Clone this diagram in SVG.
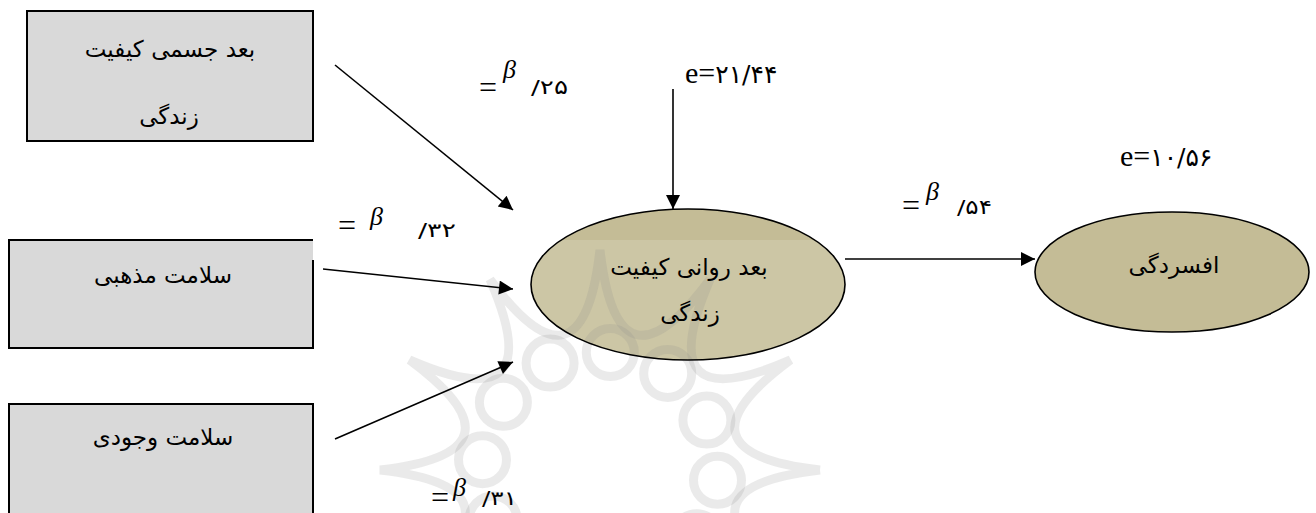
<svg xmlns="http://www.w3.org/2000/svg" width="1316" height="513" viewBox="0 0 1316 513">
<style>
.box{fill:#D9D9D9;stroke:#000;stroke-width:2}
.ell{fill:#C4BC96}
.ellb{fill:none;stroke:#000;stroke-width:1.6}
.fa{font-family:"DejaVu Sans",sans-serif;font-size:23px;fill:#000;text-anchor:middle}
.eq{font-family:"Liberation Serif",serif;font-size:32px;fill:#000}
.lat{font-family:"Liberation Serif",serif;font-size:30px;fill:#000}
.dig{font-family:"DejaVu Sans",sans-serif;font-size:20px;fill:#000}
.edig{font-family:"DejaVu Sans",sans-serif;font-size:25px}
.beta{font-family:"Liberation Serif",serif;font-style:italic;font-size:26px;fill:#000}
.wm{fill:none;stroke:#8a8a8a;stroke-width:9;opacity:0.18}
</style>
<defs>
<marker id="ahb" viewBox="0 0 10 10" refX="10" refY="5" markerWidth="16" markerHeight="14" orient="auto" markerUnits="userSpaceOnUse">
<path d="M0,0 L10,5 L0,10 Z" fill="#000"/>
</marker>
</defs>
<rect width="1316" height="513" fill="#fff"/>

<g id="node-physical">
<rect class="box" x="27" y="11" width="286" height="130"/>
<text class="fa" x="170" y="57">بعد جسمی کیفیت</text>
<text class="fa" x="169" y="124">زندگی</text>
</g>

<g id="node-religious">
<rect x="9" y="240" width="304" height="108" fill="#D9D9D9"/>
<path d="M313,260 L313,348 L9,348 L9,240 L313,240" fill="none" stroke="#000" stroke-width="2"/>
<text class="fa" x="163" y="283">سلامت مذهبی</text>
</g>

<g id="node-existential">
<rect class="box" x="9" y="404" width="304" height="120"/>
<text class="fa" x="163" y="445">سلامت وجودی</text>
</g>

<g id="node-psych-fill">
<ellipse class="ell" cx="688" cy="284.5" rx="157" ry="75.5"/>
</g>

<g id="watermark">
<rect x="320" y="240" width="575" height="273" fill="#fff" opacity="0.15"/>
<path class="wm" d="M820,470 Q665.7,487.6 790.5,580 Q648.1,518.1 710,660.5 M490,660.5 Q551.9,518.1 409.5,580 Q534.3,487.6 380,470 Q534.3,452.4 409.5,360 Q551.9,421.9 490,279.5 Q582.4,404.3 600,250 Q617.6,404.3 710,279.5 Q648.1,421.9 790.5,360 Q665.7,452.4 820,470"/>
<circle class="wm" cx="482.5" cy="459.7" r="24"/>
<circle class="wm" cx="503.4" cy="402.3" r="24"/>
<circle class="wm" cx="550.1" cy="363.1" r="24"/>
<circle class="wm" cx="610.3" cy="352.5" r="24"/>
<circle class="wm" cx="667.7" cy="373.4" r="24"/>
<circle class="wm" cx="706.9" cy="420.1" r="24"/>
<circle class="wm" cx="717.5" cy="480.3" r="24"/>
<circle class="wm" cx="696.6" cy="537.7" r="24"/>
<circle class="wm" cx="493.1" cy="519.9" r="24"/>
</g>

<g id="node-psych">
<ellipse class="ellb" cx="688" cy="284.5" rx="157" ry="75.5"/>
<text class="fa" x="689" y="275">بعد روانی کیفیت</text>
<text class="fa" x="690" y="321">زندگی</text>
</g>

<g id="node-depression">
<ellipse class="ell" cx="1172" cy="272" rx="137" ry="60"/>
<ellipse class="ellb" cx="1172" cy="272" rx="137" ry="60"/>
<text class="fa" x="1174" y="273">افسردگی</text>
</g>

<g id="connectors">
<line x1="335" y1="65" x2="513" y2="210" stroke="#000" stroke-width="1.6" marker-end="url(#ahb)"/>
<line x1="323" y1="269" x2="513" y2="289" stroke="#000" stroke-width="1.6" marker-end="url(#ahb)"/>
<line x1="335" y1="439" x2="513" y2="362" stroke="#000" stroke-width="1.6" marker-end="url(#ahb)"/>
<line x1="673" y1="89" x2="673" y2="209" stroke="#000" stroke-width="1.6" marker-end="url(#ahb)"/>
<line x1="845" y1="259" x2="1035" y2="259" stroke="#000" stroke-width="1.6" marker-end="url(#ahb)"/>
</g>

<g id="labels">
<text class="eq" x="479" y="98">=</text>
<text class="beta" x="503" y="78">β</text>
<text class="dig" x="531" y="94" textLength="37" lengthAdjust="spacingAndGlyphs">/۲۵</text>

<text class="eq" x="338" y="236">=</text>
<text class="beta" x="370" y="225">β</text>
<text class="dig" x="418" y="237" textLength="38" lengthAdjust="spacingAndGlyphs">/۳۲</text>

<text class="eq" x="431" y="508">=</text>
<text class="beta" x="453" y="496">β</text>
<text class="dig" x="482" y="505" textLength="35" lengthAdjust="spacingAndGlyphs">/۳۱</text>

<text class="eq" x="902" y="216">=</text>
<text class="beta" x="926" y="200">β</text>
<text class="dig" x="957" y="214" textLength="35" lengthAdjust="spacingAndGlyphs">/۵۴</text>

<text class="lat" x="685" y="83">e=<tspan class="edig">۲۱/۴۴</tspan></text>
<text class="lat" x="1120" y="166">e=<tspan class="edig">۱۰/۵۶</tspan></text>
</g>
</svg>
